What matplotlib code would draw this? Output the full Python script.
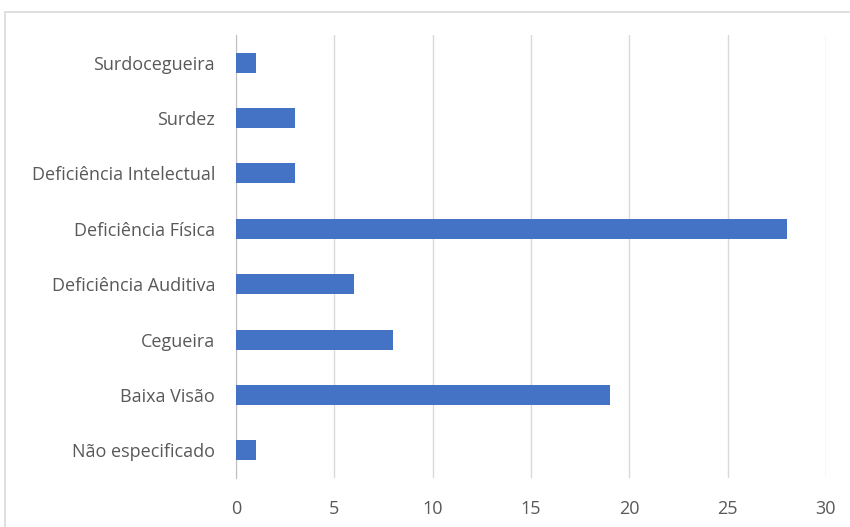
import matplotlib.pyplot as plt
from matplotlib.patches import Rectangle

# === DATA ===
categories = ["Não especificado", "Baixa Visão", "Cegueira", "Deficiência Auditiva",
              "Deficiência Física", "Deficiência Intelectual", "Surdez", "Surdocegueira"]
values = [1, 19, 8, 6, 28, 3, 3, 1]
xticks = [0, 5, 10, 15, 20, 25, 30]

plt.rcParams['font.family'] = ['Open Sans', 'DejaVu Sans']

fig = plt.figure(figsize=(8.5, 5.27), dpi=100)

# chart frame (cut off on right/bottom)
fig.patches.append(Rectangle((5 / 850, -0.1), 1.0, 1.1 - 12 / 527, transform=fig.transFigure,
                             fill=False, edgecolor="#d9d9d9", linewidth=1.2, zorder=0))

ax = fig.add_axes([236 / 850, 1 - 478 / 527, 590 / 850, 443 / 527])
ax.barh(range(len(categories)), values, height=0.36, color="#4472C4", zorder=3)

ax.set_xlim(0, 30)
ax.set_ylim(-0.5, len(categories) - 0.5)
ax.set_xticks(xticks)
ax.set_yticks(range(len(categories)))
ax.set_yticklabels(categories)
ax.grid(axis="x", color="#d9d9d9", linewidth=1)
ax.set_axisbelow(True)

for s in ["top", "right", "bottom"]:
    ax.spines[s].set_visible(False)
ax.spines["left"].set_color("#bfbfbf")

ax.tick_params(axis="both", length=0, labelsize=13, labelcolor="#595959")
ax.tick_params(axis="y", pad=15)
ax.tick_params(axis="x", pad=16)

fig.savefig("out.png", dpi=100)
